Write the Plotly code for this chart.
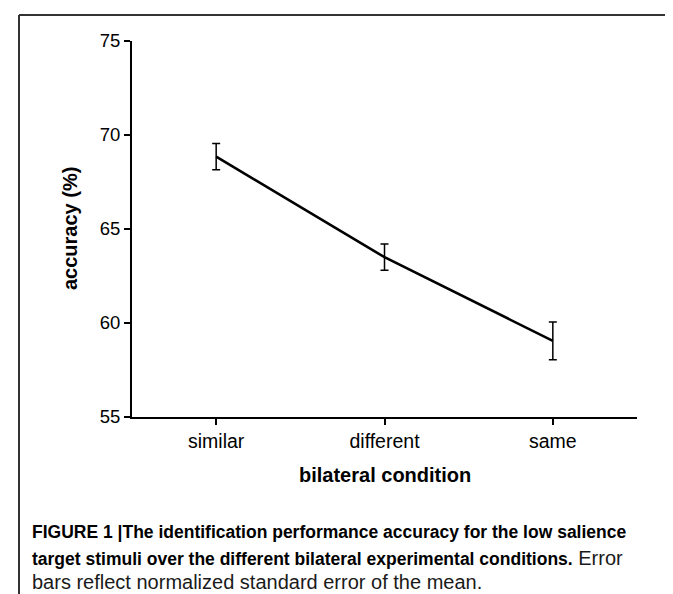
import plotly.graph_objects as go

categories = ["similar", "different", "same"]
accuracy = [68.85, 63.5, 59.05]
sem = [0.7, 0.7, 1.0]
y_ticks = [55, 60, 65, 70, 75]

W, H = 673, 594
L, R, T, B = 124, 629, 33, 409  # plot area in pixels


def px(x):
    return (x - L) / (R - L)


def py(y):
    return (B - y) / (B - T)


fig = go.Figure()
fig.add_trace(go.Scatter(
    x=categories, y=accuracy, mode="lines",
    line=dict(color="black", width=2.6),
    error_y=dict(type="data", array=sem, visible=True, color="black",
                 thickness=1.5, width=4),
    showlegend=False, hoverinfo="skip",
))

font_family = "Liberation Sans, Arial, sans-serif"

fig.update_layout(
    width=W, height=H,
    margin=dict(l=L, r=W - R, t=T, b=H - B, pad=0),
    paper_bgcolor="white", plot_bgcolor="white",
    font=dict(family=font_family, color="black"),
    xaxis=dict(
        type="category", range=[-0.5, 2.5], showgrid=False, zeroline=False,
        showline=True, linecolor="black", linewidth=2,
        ticks="outside", ticklen=6, tickwidth=1.5, tickcolor="black",
        tickfont=dict(size=19.5, family=font_family, color="black"),
    ),
    yaxis=dict(
        range=[55, 75], tickvals=y_ticks, showgrid=False, zeroline=False,
        showline=True, linecolor="black", linewidth=2,
        ticks="outside", ticklen=6, tickwidth=1.5, tickcolor="black",
        tickfont=dict(size=18.5, family=font_family, color="black"),
    ),
)

# axis titles
fig.add_annotation(text="<b>bilateral condition</b>", xref="paper", yref="paper",
                   x=px(377), y=py(467), xanchor="center", yanchor="middle",
                   showarrow=False,
                   font=dict(size=20, family=font_family, color="black"))
fig.add_annotation(text="<b>accuracy (%)</b>", xref="paper", yref="paper",
                   x=px(62), y=py(221), xanchor="center", yanchor="middle",
                   showarrow=False, textangle=-90,
                   font=dict(size=20, family=font_family, color="black"))

# caption
bold_font = dict(size=17.5, family=font_family, color="black")
reg_style = "font-size:20px;font-weight:normal;color:#1a1a1a;"
captions = [
    ("<b>FIGURE 1 |The identification performance accuracy for the low salience</b>", 524),
    ("<b>target stimuli over the different bilateral experimental conditions.</b>"
     f"<span style='{reg_style}'> Error</span>", 550),
    (f"<span style='{reg_style}'>bars reflect normalized standard error of the mean.</span>", 574),
]
for txt, yy in captions:
    fig.add_annotation(text=txt, xref="paper", yref="paper", x=px(22), y=py(yy),
                       xanchor="left", yanchor="middle", showarrow=False, font=bold_font)

# frame (left, top, right)
frame = dict(color="#333", width=2)
fig.add_shape(type="line", xref="paper", yref="paper", x0=px(11), x1=px(11), y0=py(7), y1=py(600), line=frame)
fig.add_shape(type="line", xref="paper", yref="paper", x0=px(11), x1=px(667), y0=py(7), y1=py(7), line=frame)
fig.add_shape(type="line", xref="paper", yref="paper", x0=px(667), x1=px(667), y0=py(7), y1=py(600), line=frame)

fig.write_html("out.html")
